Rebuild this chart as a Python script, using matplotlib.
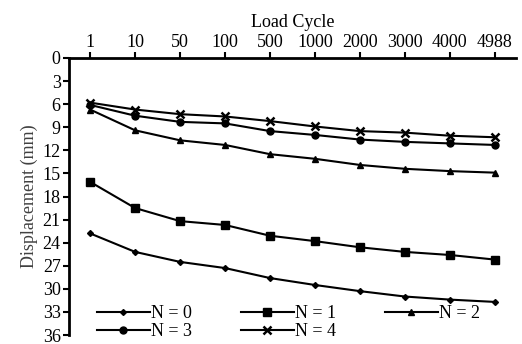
import matplotlib.pyplot as plt
import numpy as np

plt.rcParams['font.family'] = ['Liberation Serif', 'DejaVu Serif']

# datos
ciclos = ['1', '10', '50', '100', '500', '1000', '2000', '3000', '4000', '4988']
n0 = [22.8, 25.2, 26.5, 27.3, 28.6, 29.5, 30.3, 31.0, 31.4, 31.7]
n1 = [16.1, 19.5, 21.2, 21.7, 23.1, 23.8, 24.6, 25.2, 25.6, 26.2]
n2 = [6.7, 9.4, 10.7, 11.3, 12.5, 13.1, 13.9, 14.4, 14.7, 14.9]
n3 = [6.1, 7.5, 8.3, 8.5, 9.5, 10.0, 10.6, 10.9, 11.1, 11.3]
n4 = [5.8, 6.7, 7.3, 7.6, 8.2, 8.9, 9.5, 9.7, 10.1, 10.3]
etiquetas = ['N = 0', 'N = 1', 'N = 2', 'N = 3', 'N = 4']

fs = 13

fig = plt.figure(figsize=(5.22, 3.44), dpi=100)
ax = fig.add_axes([69/522, 1-335/344, (516-69)/522, (335-58)/344])

x = np.arange(len(ciclos))
lineas = []
lineas += ax.plot(x, n0, 'k-', marker='D', ms=3, lw=1.5, label=etiquetas[0])
lineas += ax.plot(x, n1, 'k-', marker='s', ms=5.5, lw=1.5, label=etiquetas[1])
lineas += ax.plot(x, n2, 'k-', marker='^', ms=5, lw=1.5, label=etiquetas[2])
lineas += ax.plot(x, n3, 'k-', marker='o', ms=5, lw=1.5, label=etiquetas[3])
lineas += ax.plot(x, n4, 'k-', marker='x', ms=6, mew=1.8, lw=1.5, label=etiquetas[4])

ax.set_xlim(-0.47, 9.47)
ax.set_ylim(36, 0)
ax.set_yticks(np.arange(0, 37, 3))
ax.set_xticks(x)
ax.set_xticklabels(ciclos)
ax.xaxis.tick_top()
ax.xaxis.set_label_position('top')
ax.set_xlabel('Load Cycle', fontsize=fs, labelpad=5)
ax.set_ylabel('Displacement (mm)', fontsize=fs, color='#404040', labelpad=3)
ax.tick_params(axis='both', labelsize=fs, width=1.5, length=4, direction='out')
ax.tick_params(axis='x', pad=1)
ax.tick_params(axis='y', pad=2)
for s in ['right', 'bottom']:
    ax.spines[s].set_visible(False)
for s in ['left', 'top']:
    ax.spines[s].set_linewidth(2)

# orden por filas como en la leyenda original
orden = [0, 3, 1, 4, 2]
ax.legend([lineas[i] for i in orden], [etiquetas[i] for i in orden],
          loc='lower left', bbox_to_anchor=(0.047, -0.045), ncol=3, frameon=False,
          fontsize=fs, handlelength=2.9, handletextpad=0.1, columnspacing=2.7,
          labelspacing=0.05, borderaxespad=0)

plt.savefig('out.png', dpi=100)
